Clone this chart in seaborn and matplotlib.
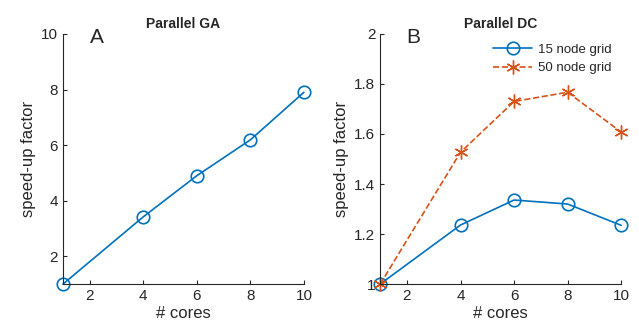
import numpy as np
import pandas as pd
import matplotlib
matplotlib.use("Agg")
import matplotlib.pyplot as plt
import seaborn as sns

cores = [1, 4, 6, 8, 10]
ga_speedup = [1.0, 3.42, 4.9, 6.19, 7.9]
dc_15 = [1.0, 1.236, 1.336, 1.32, 1.235]
dc_50 = [1.0, 1.527, 1.73, 1.767, 1.608]

blue = "#0072BD"
orange = "#D95319"
axc = "#262626"

sns.set_style("ticks")
plt.rcParams['font.family'] = ['Liberation Sans', 'DejaVu Sans']
plt.rcParams['xtick.direction'] = 'in'
plt.rcParams['ytick.direction'] = 'in'

fig = plt.figure(figsize=(6.39, 3.33), dpi=100)
ax1 = fig.add_axes([0.0986, 0.147, 0.377, 0.751])
ax2 = fig.add_axes([0.595, 0.147, 0.377, 0.751])

#Panel A
sns.lineplot(x=cores, y=ga_speedup, ax=ax1, color=blue, marker='o', markersize=9,
             markerfacecolor='none', markeredgecolor=blue, markeredgewidth=1.2, linewidth=1.2)
ax1.set_xlim(1, 10)
ax1.set_ylim(1, 10)
ax1.set_xticks([2, 4, 6, 8, 10])
ax1.set_yticks([2, 4, 6, 8, 10])
ax1.set_title("Parallel GA", fontsize=10, fontweight='bold', pad=4)
ax1.text(0.11, 0.985, "A", transform=ax1.transAxes, fontsize=15, va='center')

#Panel B
sns.lineplot(x=cores, y=dc_15, ax=ax2, color=blue, marker='o', markersize=9,
             markerfacecolor='none', markeredgecolor=blue, markeredgewidth=1.2, linewidth=1.2,
             label="15 node grid")
sns.lineplot(x=cores, y=dc_50, ax=ax2, color=orange, marker=(6, 2, 0), markersize=10,
             markeredgecolor=orange, markeredgewidth=1.0, linewidth=1.2,
             linestyle='--', dashes=(5, 3), label="50 node grid")
ax2.set_xlim(1, 10)
ax2.set_ylim(1, 2)
ax2.set_xticks([2, 4, 6, 8, 10])
ax2.set_yticks([1, 1.2, 1.4, 1.6, 1.8, 2])
ax2.set_yticklabels(["1", "1.2", "1.4", "1.6", "1.8", "2"])
ax2.set_title("Parallel DC", fontsize=10, fontweight='bold', pad=4)
ax2.text(0.11, 0.985, "B", transform=ax2.transAxes, fontsize=15, va='center')
ax2.legend(loc='upper right', frameon=False, fontsize=9.5, handlelength=3.0,
           borderaxespad=0.35, labelspacing=0.45, handletextpad=0.4)

for ax in (ax1, ax2):
    sns.despine(ax=ax)
    ax.set_xlabel("# cores", fontsize=12, color=axc, labelpad=2)
    ax.set_ylabel("speed-up factor", fontsize=12, color=axc, labelpad=4)
    ax.tick_params(labelsize=11, colors=axc, length=3, width=0.8)
    for s in ax.spines.values():
        s.set_color(axc)
        s.set_linewidth(0.8)
    for m in ax.lines:
        m.set_clip_on(False)

fig.savefig("out.png", dpi=100)
